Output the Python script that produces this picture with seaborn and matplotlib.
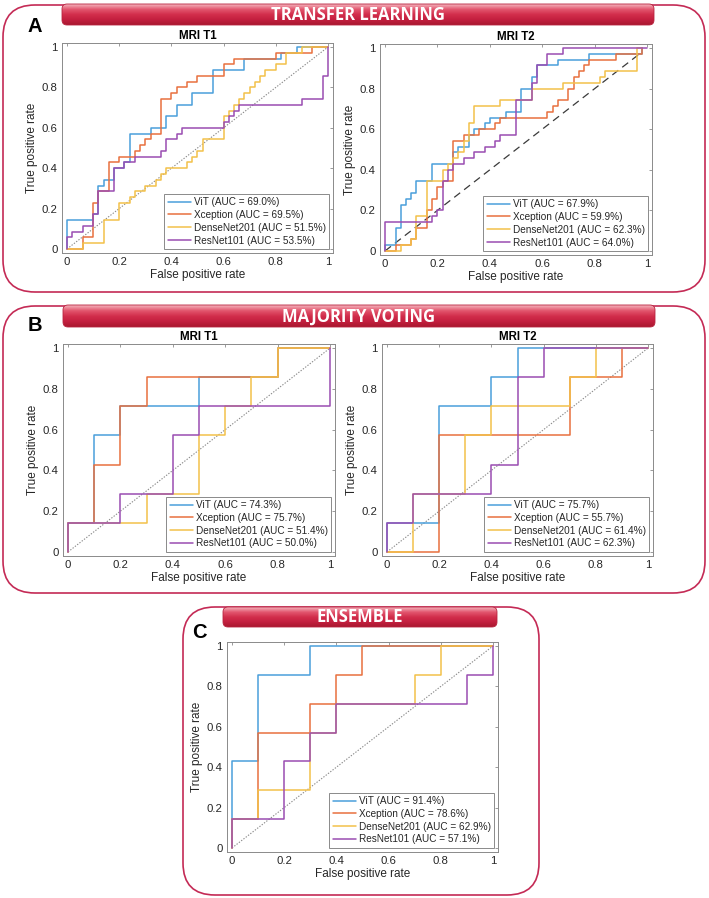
import matplotlib
matplotlib.use("Agg")
import numpy as np
import pandas as pd
import seaborn as sns
import matplotlib.pyplot as plt
from matplotlib.patches import FancyBboxPatch
from matplotlib.colors import LinearSegmentedColormap
from matplotlib.ticker import FuncFormatter

MODELS = ["ViT", "Xception", "DenseNet201", "ResNet101"]
COLORS = ["#4A9FDB", "#E8703F", "#F3C14A", "#9A4DB2"]

# ROC corners as (false positive count, true positive count), steps-post
# transfer learning: 50 negatives, 35 positives
tl_t1_vit = [(0, 0), (0, 5), (5, 6), (6, 11), (7, 12), (9, 14), (11, 15), (12, 20), (16, 21), (19, 23),
             (21, 25), (24, 27), (28, 31), (34, 33), (41, 34), (44, 35), (50, 35)]
tl_t1_xcp = [(0, 0), (3, 2), (5, 8), (6, 10), (8, 15), (10, 16), (13, 17), (14, 18), (15, 19), (16, 20),
             (18, 26), (20, 27), (21, 28), (23, 29), (25, 30), (30, 32), (32, 33), (40, 34), (47, 35), (50, 35)]
tl_t1_dense = [(0, 0), (3, 1), (7, 5), (10, 8), (12, 9), (13, 10), (15, 11), (17, 12), (18, 13), (19, 14),
               (23, 15), (24, 16), (25, 17), (26, 19), (30, 23), (31, 24), (32, 25), (33, 26), (34, 27),
               (35, 28), (36, 29), (37, 30), (38, 31), (40, 32), (42, 34), (45, 35), (50, 35)]
tl_t1_res = [(0, 0), (0, 2), (1, 3), (3, 4), (5, 6), (6, 10), (9, 14), (11, 15), (13, 16), (18, 17),
             (19, 19), (21, 20), (22, 21), (30, 22), (31, 23), (32, 24), (33, 25), (45, 26), (49, 30), (50, 35)]
tl_t1_auc = [69.0, 69.5, 51.5, 53.5]

tl_t2_vit = [(0, 0), (0, 1), (2, 4), (3, 8), (4, 9), (5, 10), (6, 12), (9, 15), (13, 17), (14, 18),
             (16, 20), (17, 21), (19, 22), (20, 23), (23, 24), (26, 28), (28, 30), (29, 32), (33, 33),
             (39, 34), (49, 35)]
tl_t2_xcp = [(0, 0), (2, 1), (5, 2), (6, 4), (8, 7), (9, 9), (10, 11), (11, 12), (13, 19), (15, 20),
             (18, 21), (21, 22), (22, 23), (31, 24), (32, 25), (33, 26), (35, 28), (36, 30), (37, 31),
             (38, 32), (39, 33), (44, 34), (49, 35)]
tl_t2_dense = [(0, 0), (3, 1), (5, 2), (6, 6), (8, 12), (11, 14), (12, 15), (13, 16), (14, 17), (15, 19),
               (16, 22), (17, 25), (22, 26), (28, 28), (34, 29), (41, 30), (42, 31), (48, 35), (49, 35)]
tl_t2_res = [(0, 0), (0, 5), (9, 6), (10, 7), (11, 12), (12, 14), (13, 15), (15, 16), (17, 17), (19, 18),
             (21, 19), (22, 20), (25, 26), (28, 29), (29, 32), (31, 34), (34, 35), (50, 35)]
tl_t2_auc = [67.9, 59.9, 62.3, 64.0]

# majority voting / ensemble: 10 negatives, 7 positives
mv_t1_vit = [(0, 0), (0, 1), (1, 4), (2, 5), (5, 6), (8, 7), (10, 7)]
mv_t1_xcp = [(0, 0), (0, 1), (1, 3), (2, 5), (3, 6), (8, 7), (10, 7)]
mv_t1_dense = [(0, 0), (0, 1), (3, 2), (5, 4), (6, 5), (7, 6), (8, 7), (10, 7)]
mv_t1_res = [(0, 0), (0, 1), (2, 2), (4, 4), (5, 5), (10, 7)]
mv_t1_auc = [74.3, 75.7, 51.4, 50.0]

mv_t2_vit = [(0, 0), (0, 1), (2, 5), (4, 6), (5, 7), (10, 7)]
mv_t2_xcp = [(0, 0), (2, 4), (7, 6), (9, 7), (10, 7)]
mv_t2_dense = [(0, 0), (1, 2), (3, 4), (4, 5), (7, 6), (8, 7), (10, 7)]
mv_t2_res = [(0, 0), (0, 1), (1, 2), (4, 3), (5, 6), (6, 7), (10, 7)]
mv_t2_auc = [75.7, 55.7, 61.4, 62.3]

en_vit = [(0, 0), (0, 3), (1, 6), (3, 7), (10, 7)]
en_xcp = [(0, 0), (0, 1), (1, 4), (3, 5), (4, 6), (5, 7), (10, 7)]
en_dense = [(0, 0), (0, 1), (1, 2), (3, 4), (4, 5), (7, 6), (8, 7), (10, 7)]
en_res = [(0, 0), (0, 1), (2, 3), (3, 4), (4, 5), (9, 6), (10, 7)]
en_auc = [91.4, 78.6, 62.9, 57.1]

W, H = 709, 898
sns.set_theme(style="white")
plt.rcParams["font.family"] = ["Liberation Sans", "DejaVu Sans"]
fig = plt.figure(figsize=(W / 100, H / 100), dpi=100)

# frame layer in pixel coordinates
ov = fig.add_axes([0, 0, 1, 1], zorder=-5)
ov.axis("off")
BORDER = "#C42A55"
banner_cmap = LinearSegmentedColormap.from_list(
    "banner", ["#F4B3BD", "#E2566E", "#D22E4C", "#C31F3F", "#A9182F"])
grad = np.linspace(0, 1, 64).reshape(-1, 1)


def frame(x0, y0, x1, y1):
    ov.add_patch(FancyBboxPatch((x0, y0), x1 - x0, y1 - y0,
                                boxstyle="round,pad=0,rounding_size=32",
                                fc="white", ec=BORDER, lw=1.2))


def banner(x0, y0, x1, y1, text):
    box = FancyBboxPatch((x0, y0), x1 - x0, y1 - y0,
                         boxstyle="round,pad=0,rounding_size=5",
                         fc="none", ec="#B8233F", lw=0.6, zorder=3)
    ov.add_patch(box)
    im = ov.imshow(grad, cmap=banner_cmap, extent=(x0, x1, y1, y0),
                   aspect="auto", zorder=2, interpolation="bilinear")
    im.set_clip_path(box)
    ov.text((x0 + x1) / 2, (y0 + y1) / 2 + 0.5, text, color="white",
            fontsize=12, fontweight="bold", family=["Open Sans", "DejaVu Sans"],
            ha="center", va="center", zorder=4)


frame(3, 5, 705, 292)
frame(3, 306, 705, 593)
frame(183, 607, 539, 895)
banner(62, 4, 654, 25, "TRANSFER LEARNING")
banner(63, 305, 655, 327, "MAJORITY VOTING")
banner(223, 607, 497, 627, "ENSEMBLE")
for lab, x, y in [("A", 27, 32), ("B", 28, 331), ("C", 192, 638)]:
    ov.text(x, y, lab, fontsize=14.5, fontweight="bold", color="black",
            ha="left", va="baseline")
ov.set_xlim(0, W)
ov.set_ylim(H, 0)


def px_axes(left, top, w, h):
    return fig.add_axes([left / W, 1 - (top + h) / H, w / W, h / H])


def roc_panel(ax, curves, aucs, n_neg, n_pos, title=None, dashed=False):
    if dashed:
        ax.plot([0, 0.98], [0, 0.98], color="#3a3a3a", lw=0.9, ls=(0, (6, 4)), zorder=1)
    else:
        ax.plot([0, 1], [0, 1], color="#8a8a8a", lw=0.8, ls=(0, (1.2, 1.4)), zorder=1)
    handles = []
    for pts, name, auc, col in zip(curves, MODELS, aucs, COLORS):
        df = pd.DataFrame(pts, columns=["fp", "tp"])
        df["fpr"] = df["fp"] / n_neg
        df["tpr"] = df["tp"] / n_pos
        sns.lineplot(data=df, x="fpr", y="tpr", ax=ax, estimator=None, sort=False,
                     drawstyle="steps-post", color=col, lw=1.1, zorder=2)
        handles.append(ax.lines[-1])
    labels = [f"{m} (AUC = {a:.1f}%)" for m, a in zip(MODELS, aucs)]
    leg = ax.legend(handles, labels, loc="lower right", fontsize=7.2, frameon=True,
                    fancybox=False, framealpha=1, edgecolor="#8a8a8a",
                    borderpad=0.35, labelspacing=0.28, handlelength=2.3,
                    handletextpad=0.3, borderaxespad=0.4)
    leg.get_frame().set_linewidth(0.7)
    ax.set_xlim(-0.02, 1.02)
    ax.set_ylim(-0.02, 1.02)
    ticks = [0, 0.2, 0.4, 0.6, 0.8, 1]
    ax.set_xticks(ticks)
    ax.set_yticks(ticks)
    fmt = FuncFormatter(lambda v, p: f"{v:g}")
    ax.xaxis.set_major_formatter(fmt)
    ax.yaxis.set_major_formatter(fmt)
    ax.tick_params(direction="in", length=2.5, width=0.6, top=True, right=True,
                   labelsize=8.2, colors="#8a8a8a", labelcolor="#262626", pad=3)
    for s in ax.spines.values():
        s.set_color("#8a8a8a")
        s.set_linewidth(0.7)
    ax.set_xlabel("False positive rate", fontsize=8.5, color="#262626", labelpad=1.5)
    ax.set_ylabel("True positive rate", fontsize=8.5, color="#262626", labelpad=3)
    if title:
        ax.set_title(title, fontsize=8.3, fontweight="bold", color="black", pad=3)


ax = px_axes(61.8, 43, 271.4, 210)
roc_panel(ax, [tl_t1_vit, tl_t1_xcp, tl_t1_dense, tl_t1_res], tl_t1_auc, 50, 35, "MRI T1")
ax = px_axes(379.8, 44, 272.5, 211)
roc_panel(ax, [tl_t2_vit, tl_t2_xcp, tl_t2_dense, tl_t2_res], tl_t2_auc, 50, 35, "MRI T2", dashed=True)
ax = px_axes(62.8, 344, 272.5, 212)
roc_panel(ax, [mv_t1_vit, mv_t1_xcp, mv_t1_dense, mv_t1_res], mv_t1_auc, 10, 7, "MRI T1")
ax = px_axes(381.8, 344, 271.4, 212)
roc_panel(ax, [mv_t2_vit, mv_t2_xcp, mv_t2_dense, mv_t2_res], mv_t2_auc, 10, 7, "MRI T2")
ax = px_axes(226.8, 642, 271.4, 210)
roc_panel(ax, [en_vit, en_xcp, en_dense, en_res], en_auc, 10, 7)

fig.savefig("out.png", dpi=100, facecolor="white")
